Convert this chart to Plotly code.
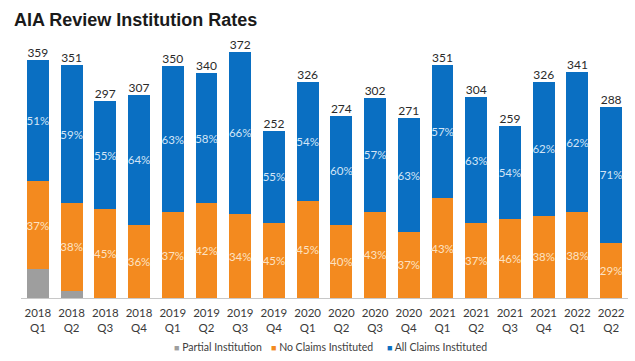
import plotly.graph_objects as go

quarters = ["2018<br>Q1", "2018<br>Q2", "2018<br>Q3", "2018<br>Q4",
            "2019<br>Q1", "2019<br>Q2", "2019<br>Q3", "2019<br>Q4",
            "2020<br>Q1", "2020<br>Q2", "2020<br>Q3", "2020<br>Q4",
            "2021<br>Q1", "2021<br>Q2", "2021<br>Q3", "2021<br>Q4",
            "2022<br>Q1", "2022<br>Q2"]
totals = [359, 351, 297, 307, 350, 340, 372, 252, 326, 274, 302, 271, 351, 304, 259, 326, 341, 288]
all_pct = [51, 59, 55, 64, 63, 58, 66, 55, 54, 60, 57, 63, 57, 63, 54, 62, 62, 71]
no_pct = [37, 38, 45, 36, 37, 42, 34, 45, 45, 40, 43, 37, 43, 37, 46, 38, 38, 29]
partial_pct = [12, 3, 0, 0, 0, 0, 0, 0, 0, 0, 0, 0, 0, 0, 0, 0, 0, 0]
series_names = ["Partial Institution", "No Claims Instituted", "All Claims Instituted"]
series_colors = ["#9E9E9E", "#F38A1F", "#0A6FC2"]

partial_vals = [t * p / 100 for t, p in zip(totals, partial_pct)]
no_vals = [t * p / 100 for t, p in zip(totals, no_pct)]
all_vals = [t - a - b for t, a, b in zip(totals, partial_vals, no_vals)]

FONT = "Lato"
fig = go.Figure()
fig.add_trace(go.Bar(x=quarters, y=partial_vals, name=series_names[0],
                     marker=dict(color=series_colors[0], line=dict(width=0)),
                     hoverinfo="skip"))
fig.add_trace(go.Bar(x=quarters, y=no_vals, name=series_names[1],
                     marker=dict(color=series_colors[1], line=dict(width=0)),
                     text=[f"{p}%" for p in no_pct], textposition="inside",
                     insidetextanchor="middle", textangle=0, constraintext="none",
                     textfont=dict(family=FONT, size=11.5, color="#FDE2C2")))
fig.add_trace(go.Bar(x=quarters, y=all_vals, name=series_names[2],
                     marker=dict(color=series_colors[2], line=dict(width=0)),
                     text=[f"{p}%" for p in all_pct], textposition="inside",
                     insidetextanchor="middle", textangle=0, constraintext="none",
                     textfont=dict(family=FONT, size=11.5, color="#D4E5F6")))
fig.add_trace(go.Scatter(x=quarters, y=totals, mode="text",
                         text=[str(t) for t in totals], textposition="top center",
                         textfont=dict(family=FONT, size=12, color="#2a2a2a"),
                         showlegend=False, hoverinfo="skip", cliponaxis=False))

# legend drawn as text entries (coloured square + label)
legend_x = [0.2488, 0.4086, 0.5997]
for name, color, lx in zip(series_names, series_colors, legend_x):
    fig.add_annotation(
        xref="paper", yref="paper", x=lx, y=-0.185, xanchor="left", yanchor="middle",
        showarrow=False,
        text=f'<span style="color:{color};font-size:9px">■</span> {name}',
        font=dict(family=FONT, size=10.5, color="#404040"),
    )

fig.update_layout(
    width=635, height=361,
    barmode="stack", bargap=0.35,
    plot_bgcolor="white", paper_bgcolor="white",
    margin=dict(l=21, r=7, t=33, b=63, autoexpand=False),
    title=dict(text="<b>AIA Review Institution Rates</b>", x=0.022, xanchor="left",
               y=0.945, yanchor="middle",
               font=dict(family="Liberation Sans", size=18, color="#1a1a1a")),
    xaxis=dict(showgrid=False, showline=True, linecolor="#C8C8C8", linewidth=1,
               ticks="", automargin=False, range=[-0.5, len(quarters) - 0.5],
               ticklabelstandoff=4,
               tickfont=dict(family=FONT, size=11.5, color="#3a3a3a")),
    yaxis=dict(range=[0, 400], visible=False, showgrid=False, automargin=False),
    showlegend=False,
)
fig.write_html("out.html", config={"displayModeBar": False},
               post_script="document.body.style.margin='0';document.body.style.overflow='hidden';")
